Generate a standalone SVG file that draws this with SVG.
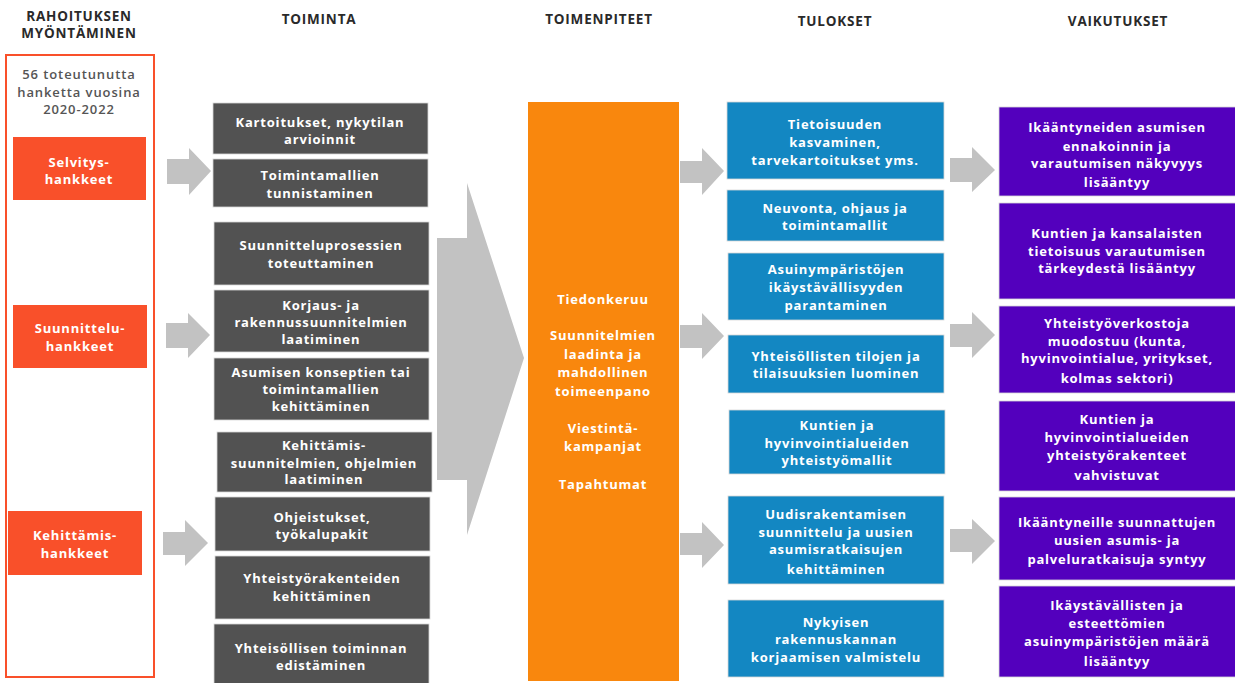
<svg xmlns="http://www.w3.org/2000/svg" width="1235" height="683" viewBox="0 0 1235 683">
<style>
text{font-family:"Open Sans","Liberation Sans",sans-serif;font-weight:700;text-anchor:middle;dominant-baseline:central}
.hd{font-size:13.5px;fill:#2a2a2a;letter-spacing:0.8px}
.t{font-size:13px;fill:#ffffff;letter-spacing:0.8px}
.g{font-size:13px;fill:#555555;font-weight:600;letter-spacing:0.9px}
.red{fill:#F9502A}
.dk{fill:#525252;stroke:#d8d8d8;stroke-width:0.8}
.or{fill:#F9870D}
.bl{fill:#1387C2;stroke:#d8d8d8;stroke-width:0.8}
.pu{fill:#5300BD;stroke:#d8d8d8;stroke-width:0.8}
.ar{fill:#C2C2C2}
</style>
<rect width="1235" height="683" fill="#ffffff"/>
<g id="headers">
<text class="hd" x="79" y="16">RAHOITUKSEN</text>
<text class="hd" x="79" y="33">MYÖNTÄMINEN</text>
<text class="hd" x="319" y="19">TOIMINTA</text>
<text class="hd" x="599" y="19">TOIMENPITEET</text>
<text class="hd" x="835" y="21">TULOKSET</text>
<text class="hd" x="1118" y="21">VAIKUTUKSET</text>
</g>
<g id="funding">
<rect x="6" y="55" width="148" height="622" fill="none" stroke="#F9502A" stroke-width="2"/>
<text class="g" x="79" y="74">56 toteutunutta</text>
<text class="g" x="79" y="92">hanketta vuosina</text>
<text class="g" x="79" y="109">2020-2022</text>
</g>
<g id="selvitys"><rect class="red" x="13" y="137" width="133" height="63"/><text class="t" x="79" y="162">Selvitys-</text><text class="t" x="79" y="179">hankkeet</text></g>
<g id="suunnittelu"><rect class="red" x="13" y="305" width="134" height="63"/><text class="t" x="80" y="328">Suunnittelu-</text><text class="t" x="80" y="346">hankkeet</text></g>
<g id="kehittamis"><rect class="red" x="8" y="511" width="134" height="64"/><text class="t" x="75" y="535">Kehittämis-</text><text class="t" x="75" y="553">hankkeet</text></g>
<g id="connectors">
<polygon class="ar" points="167,159 189,159 189,148 211,171 189,195 189,184 167,184"/>
<polygon class="ar" points="166,323 188,323 188,313 210,335 188,358 188,348 166,348"/>
<polygon class="ar" points="163,532 185,532 185,520 208,543 185,566 185,555 163,555"/>
<polygon class="ar" points="437,238 467,238 467,183 524,358 467,535 467,480 437,480"/>
<polygon class="ar" points="680,161 702,161 702,148 724,171 702,195 702,183 680,183"/>
<polygon class="ar" points="680,325 702,325 702,313 724,336 702,359 702,348 680,348"/>
<polygon class="ar" points="680,533 702,533 702,522 724,545 702,568 702,555 680,555"/>
<polygon class="ar" points="950,158 972,158 972,147 995,170 972,192 972,182 950,182"/>
<polygon class="ar" points="950,324 972,324 972,312 995,335 972,358 972,347 950,347"/>
<polygon class="ar" points="950,529 972,529 972,519 995,541 972,564 972,552 950,552"/>
</g>
<g id="a1"><rect class="dk" x="213" y="103" width="215" height="51"/><text class="t" x="320" y="122">Kartoitukset, nykytilan</text><text class="t" x="320" y="139">arvioinnit</text></g>
<g id="a2"><rect class="dk" x="213" y="159" width="215" height="48"/><text class="t" x="320" y="175">Toimintamallien</text><text class="t" x="320" y="193">tunnistaminen</text></g>
<g id="a3"><rect class="dk" x="214" y="222" width="215" height="63"/><text class="t" x="321" y="245">Suunnitteluprosessien</text><text class="t" x="321" y="263">toteuttaminen</text></g>
<g id="a4"><rect class="dk" x="214" y="290" width="215" height="62"/><text class="t" x="321" y="305">Korjaus- ja</text><text class="t" x="321" y="322">rakennussuunnitelmien</text><text class="t" x="321" y="339">laatiminen</text></g>
<g id="a5"><rect class="dk" x="214" y="358" width="215" height="62"/><text class="t" x="321" y="372">Asumisen konseptien tai</text><text class="t" x="321" y="389">toimintamallien</text><text class="t" x="321" y="406">kehittäminen</text></g>
<g id="a6"><rect class="dk" x="217" y="432" width="215" height="60"/><text class="t" x="324" y="445">Kehittämis-</text><text class="t" x="324" y="463">suunnitelmien, ohjelmien</text><text class="t" x="324" y="479">laatiminen</text></g>
<g id="a7"><rect class="dk" x="215" y="497" width="215" height="54"/><text class="t" x="322" y="517">Ohjeistukset,</text><text class="t" x="322" y="534">työkalupakit</text></g>
<g id="a8"><rect class="dk" x="215" y="556" width="215" height="63"/><text class="t" x="322" y="578">Yhteistyörakenteiden</text><text class="t" x="322" y="596">kehittäminen</text></g>
<g id="a9"><rect class="dk" x="214" y="624" width="215" height="62"/><text class="t" x="321" y="648">Yhteisöllisen toiminnan</text><text class="t" x="321" y="665">edistäminen</text></g>
<g id="toimenpiteet"><rect class="or" x="528" y="102" width="151" height="579"/>
<text class="t" x="603" y="299">Tiedonkeruu</text>
<text class="t" x="603" y="335">Suunnitelmien</text><text class="t" x="603" y="354">laadinta ja</text><text class="t" x="603" y="372">mahdollinen</text><text class="t" x="603" y="391">toimeenpano</text>
<text class="t" x="603" y="428">Viestintä-</text><text class="t" x="603" y="446">kampanjat</text>
<text class="t" x="603" y="484">Tapahtumat</text></g>
<g id="b1"><rect class="bl" x="727" y="102" width="217" height="77"/><text class="t" x="835" y="124">Tietoisuuden</text><text class="t" x="835" y="142">kasvaminen,</text><text class="t" x="835" y="160">tarvekartoitukset yms.</text></g>
<g id="b2"><rect class="bl" x="727" y="190" width="217" height="51"/><text class="t" x="835" y="208">Neuvonta, ohjaus ja</text><text class="t" x="835" y="225">toimintamallit</text></g>
<g id="b3"><rect class="bl" x="728" y="253" width="216" height="67"/><text class="t" x="836" y="269">Asuinympäristöjen</text><text class="t" x="836" y="287">ikäystävällisyyden</text><text class="t" x="836" y="305">parantaminen</text></g>
<g id="b4"><rect class="bl" x="728" y="335" width="216" height="58"/><text class="t" x="836" y="356">Yhteisöllisten tilojen ja</text><text class="t" x="836" y="373">tilaisuuksien luominen</text></g>
<g id="b5"><rect class="bl" x="729" y="410" width="216" height="64"/><text class="t" x="837" y="425">Kuntien ja</text><text class="t" x="837" y="443">hyvinvointialueiden</text><text class="t" x="837" y="460">yhteistyömallit</text></g>
<g id="b6"><rect class="bl" x="728" y="496" width="216" height="88"/><text class="t" x="836" y="514">Uudisrakentamisen</text><text class="t" x="836" y="532">suunnittelu ja uusien</text><text class="t" x="836" y="549">asumisratkaisujen</text><text class="t" x="836" y="569">kehittäminen</text></g>
<g id="b7"><rect class="bl" x="728" y="600" width="216" height="77"/><text class="t" x="836" y="622">Nykyisen</text><text class="t" x="836" y="639">rakennuskannan</text><text class="t" x="836" y="657">korjaamisen valmistelu</text></g>
<g id="c1"><rect class="pu" x="999" y="107" width="237" height="89"/><text class="t" x="1117" y="127">Ikääntyneiden asumisen</text><text class="t" x="1117" y="146">ennakoinnin ja</text><text class="t" x="1117" y="163">varautumisen näkyvyys</text><text class="t" x="1117" y="182">lisääntyy</text></g>
<g id="c2"><rect class="pu" x="999" y="203" width="237" height="96"/><text class="t" x="1117" y="233">Kuntien ja kansalaisten</text><text class="t" x="1117" y="251">tietoisuus varautumisen</text><text class="t" x="1117" y="268">tärkeydestä lisääntyy</text></g>
<g id="c3"><rect class="pu" x="999" y="306" width="237" height="87"/><text class="t" x="1117" y="323">Yhteistyöverkostoja</text><text class="t" x="1117" y="341">muodostuu (kunta,</text><text class="t" x="1117" y="358">hyvinvointialue, yritykset,</text><text class="t" x="1117" y="378">kolmas sektori)</text></g>
<g id="c4"><rect class="pu" x="999" y="401" width="237" height="90"/><text class="t" x="1117" y="419">Kuntien ja</text><text class="t" x="1117" y="437">hyvinvointialueiden</text><text class="t" x="1117" y="455">yhteistyörakenteet</text><text class="t" x="1117" y="475">vahvistuvat</text></g>
<g id="c5"><rect class="pu" x="999" y="497" width="237" height="83"/><text class="t" x="1117" y="522">Ikääntyneille suunnattujen</text><text class="t" x="1117" y="540">uusien asumis- ja</text><text class="t" x="1117" y="559">palveluratkaisuja syntyy</text></g>
<g id="c6"><rect class="pu" x="999" y="586" width="237" height="91"/><text class="t" x="1117" y="605">Ikäystävällisten ja</text><text class="t" x="1117" y="623">esteettömien</text><text class="t" x="1117" y="641">asuinympäristöjen määrä</text><text class="t" x="1117" y="661">lisääntyy</text></g>
</svg>
